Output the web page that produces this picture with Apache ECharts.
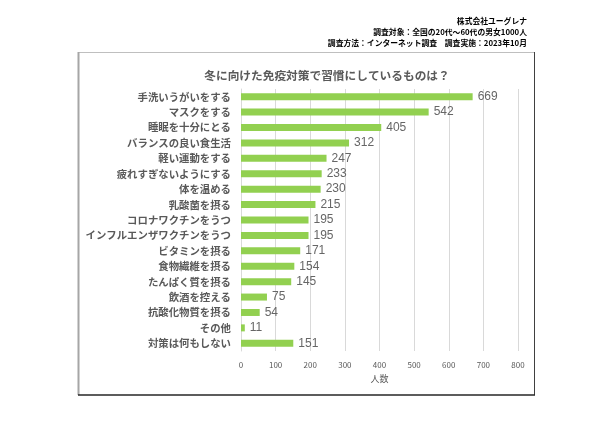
<!DOCTYPE html>
<html><head><meta charset="utf-8">
<script src="https://cdn.jsdelivr.net/npm/echarts@6/dist/echarts.min.js"></script>
<style>html,body{margin:0;padding:0;background:#fff}#c{width:605px;height:439px}</style>
</head><body><div id="c"></div>
<script>
const categories = ["手洗いうがいをする","マスクをする","睡眠を十分にとる","バランスの良い食生活","軽い運動をする","疲れすぎないようにする","体を温める","乳酸菌を摂る","コロナワクチンをうつ","インフルエンザワクチンをうつ","ビタミンを摂る","食物繊維を摂る","たんぱく質を摂る","飲酒を控える","抗酸化物質を摂る","その他","対策は何もしない"];
const values = [669,542,405,312,247,233,230,215,195,195,171,154,145,75,54,11,151];
const titleText = "冬に向けた免疫対策で習慣にしているものは？";
const noteLines = ["株式会社ユーグレナ","調査対象：全国の20代～60代の男女1000人","調査方法：インターネット調査　調査実施：2023年10月"];
const axisName = "人数";

const font = "'Noto Sans CJK JP', sans-serif";
const chart = echarts.init(document.getElementById('c'));
const noteGraphics = noteLines.map((t, i) => ({
  type: 'text', right: 78, top: 17 + i * 11,
  style: {text: t, fontFamily: font, fontSize: 7.8, fontWeight: 'bold', fill: '#000'}
}));
chart.setOption({
  animation: false,
  title: {
    text: titleText, left: 322, top: 65, textAlign: 'center',
    textStyle: {fontFamily: font, fontSize: 11.7, fontWeight: 'bold', color: '#595959'}
  },
  graphic: [
    {type:'line', shape:{x1:78,y1:52.5,x2:535,y2:52.5}, style:{stroke:'#bfbfbf', lineWidth:1}},
    {type:'line', shape:{x1:78.5,y1:52,x2:78.5,y2:395}, style:{stroke:'#a6a6a6', lineWidth:2}},
    {type:'line', shape:{x1:534.5,y1:52,x2:534.5,y2:395}, style:{stroke:'#404040', lineWidth:1}},
    {type:'line', shape:{x1:78,y1:395,x2:535,y2:395}, style:{stroke:'#262626', lineWidth:1.5}}
  ].concat(noteGraphics),
  grid: {left: 241, right: 87, top: 89, bottom: 88, containLabel: false},
  xAxis: {
    type: 'value', min: 0, max: 800, interval: 100,
    name: axisName, nameLocation: 'middle', nameGap: 16,
    nameTextStyle: {fontFamily: font, fontSize: 9, color: '#595959'},
    axisLine: {show: false}, axisTick: {show: false},
    axisLabel: {fontFamily: font, fontSize: 8, color: '#595959', margin: 10},
    splitLine: {lineStyle: {color: '#d9d9d9', width: 1}}
  },
  yAxis: {
    type: 'category', data: categories, inverse: true,
    axisLine: {lineStyle: {color: '#d9d9d9'}}, axisTick: {show: false},
    axisLabel: {fontFamily: font, fontSize: 10.4, fontWeight: 'bold', color: '#595959', margin: 10}
  },
  series: [{
    type: 'bar', data: values, barWidth: 7,
    itemStyle: {color: '#92D050'},
    label: {show: true, position: 'right', distance: 5, fontFamily: "'Liberation Sans', sans-serif", fontSize: 12, color: '#666666'}
  }]
});
</script></body></html>
